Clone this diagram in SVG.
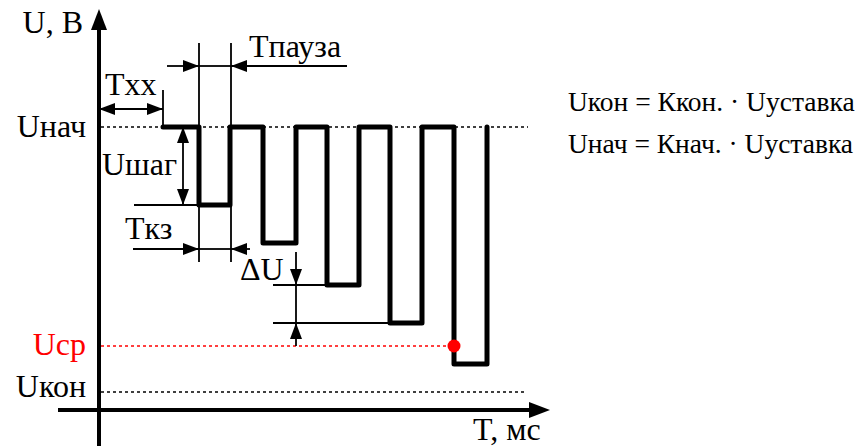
<svg xmlns="http://www.w3.org/2000/svg" width="864" height="448" viewBox="0 0 864 448">
<style>
.lbl{font-family:"Liberation Serif",serif;font-size:32px;fill:#000}
.f{font-family:"Liberation Serif",serif;font-size:27.5px;fill:#000}
.red{fill:#f00}
.ax{stroke:#000;stroke-width:4;fill:none}
.dot{stroke:#000;stroke-width:1.6;stroke-dasharray:3,3;fill:none}
.dim{stroke:#000;stroke-width:1.8;fill:none}
.wave{stroke:#000;stroke-width:5;fill:none;stroke-linejoin:round;stroke-linecap:round}
</style>
<defs>
<marker id="ah" markerUnits="userSpaceOnUse" markerWidth="16" markerHeight="12" refX="16" refY="6" orient="auto-start-reverse" viewBox="0 0 16 12">
<path d="M0,0 L16,6 L0,12 z" fill="#000"/>
</marker>
</defs>
<rect width="864" height="448" fill="#fff"/>
<g id="axes">
<line class="ax" x1="99" y1="446" x2="99" y2="26"/>
<polygon points="99,9 91,30 107,30" fill="#000"/>
<line class="ax" x1="58" y1="410" x2="532" y2="410"/>
<polygon points="550,410 529,402 529,418" fill="#000"/>
</g>
<g id="guides">
<line class="dot" x1="101" y1="127" x2="528" y2="127"/>
<line class="dot" x1="101" y1="392" x2="525" y2="392"/>
<line class="dot" x1="101" y1="346" x2="454" y2="346" style="stroke:#f00"/>
</g>
<g id="connectors">
<path class="dim" d="M163,90 V127"/>
<path class="dim" d="M99,109 H163" marker-start="url(#ah)" marker-end="url(#ah)"/>
<path class="dim" d="M199,43 V127 M231,43 V127"/>
<path class="dim" d="M167,66 H199" marker-end="url(#ah)"/>
<path class="dim" d="M347,66 H231" marker-end="url(#ah)"/>
<path class="dim" d="M199,66 H231"/>
<path class="dim" d="M183,127 V205" marker-start="url(#ah)" marker-end="url(#ah)"/>
<path class="dim" d="M134,205 H199"/>
<path class="dim" d="M199,205 V262 M231,205 V262"/>
<path class="dim" d="M133,249 H199" marker-end="url(#ah)"/>
<path class="dim" d="M250,249 H231" marker-end="url(#ah)"/>
<path class="dim" d="M199,249 H231"/>
<path class="dim" d="M273,285 H327 M273,323 H390"/>
<path class="dim" d="M296,252 V285" marker-end="url(#ah)"/>
<path class="dim" d="M296,346 V323" marker-end="url(#ah)"/>
<path class="dim" d="M296,285 V323"/>
</g>
<g id="waveform">
<polyline class="wave" points="163,127 199,127 199,205 230,205 230,127 263,127 263,243 296,243 296,127 327,127 327,285 359,285 359,127 390,127 390,323 422,323 422,127 454,127 454,364 487,364 487,127"/>
</g>
<g id="trip-point">
<circle cx="454" cy="346" r="6.5" fill="#f00"/>
</g>
<g id="labels">
<text class="lbl" x="83" y="33" text-anchor="end">U, В</text>
<text class="lbl" x="86" y="137" text-anchor="end">Uнач</text>
<text class="lbl red" x="86" y="355" text-anchor="end">Ucp</text>
<text class="lbl" x="86" y="397" text-anchor="end">Uкон</text>
<text class="lbl" x="105" y="95">Txx</text>
<text class="lbl" x="249" y="57">Tпауза</text>
<text class="lbl" x="102" y="175">Uшаг</text>
<text class="lbl" x="125" y="239">Tкз</text>
<text class="lbl" x="240" y="280">ΔU</text>
<text class="lbl" x="473" y="440">T, мс</text>
<text class="f" x="568" y="111">Uкон = Ккон. · Uуставка</text>
<text class="f" x="568" y="153">Uнач = Кнач. · Uуставка</text>
</g>
</svg>
